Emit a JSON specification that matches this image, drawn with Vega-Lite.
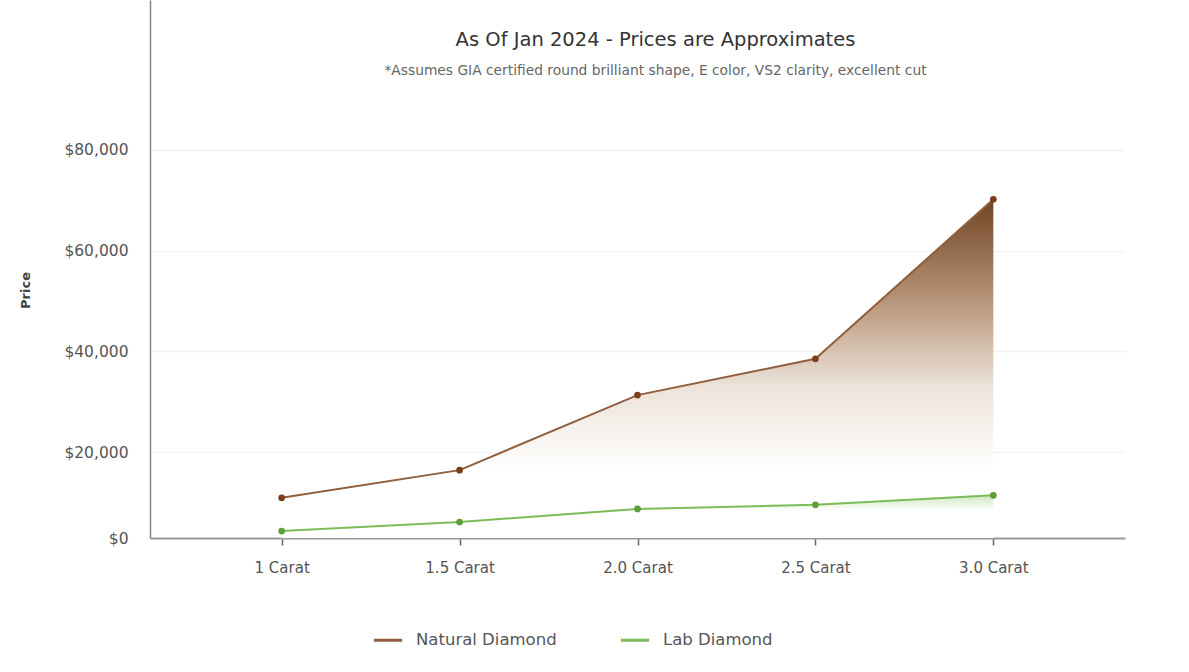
{
  "$schema": "https://vega.github.io/schema/vega-lite/v6.json",
  "width": 975,
  "height": 538,
  "autosize": {"type": "none"},
  "padding": {"left": 150, "top": 0, "right": 64, "bottom": 134},
  "background": "#ffffff",
  "config": {
    "font": "DejaVu Sans",
    "view": {"stroke": null}
  },
  "title": {
    "text": "As Of Jan 2024 - Prices are Approximates",
    "subtitle": "*Assumes GIA  certified round  brilliant shape, E color, VS2 clarity, excellent cut",
    "orient": "top",
    "anchor": "middle",
    "offset": -79,
    "dx": 18,
    "fontSize": 19.5,
    "fontWeight": "normal",
    "color": "#333333",
    "subtitleFontSize": 13.8,
    "subtitleColor": "#666666",
    "subtitlePadding": 14
  },
  "data": {
    "values": [
      {"carat": "1 Carat", "type": "Natural Diamond", "price": 10900},
      {"carat": "1.5 Carat", "type": "Natural Diamond", "price": 16400},
      {"carat": "2.0 Carat", "type": "Natural Diamond", "price": 31300},
      {"carat": "2.5 Carat", "type": "Natural Diamond", "price": 38500},
      {"carat": "3.0 Carat", "type": "Natural Diamond", "price": 70200},
      {"carat": "1 Carat", "type": "Lab Diamond", "price": 4300},
      {"carat": "1.5 Carat", "type": "Lab Diamond", "price": 6100},
      {"carat": "2.0 Carat", "type": "Lab Diamond", "price": 8700},
      {"carat": "2.5 Carat", "type": "Lab Diamond", "price": 9500},
      {"carat": "3.0 Carat", "type": "Lab Diamond", "price": 11400}
    ]
  },
  "encoding": {
    "x": {
      "field": "carat",
      "type": "ordinal",
      "sort": ["1 Carat", "1.5 Carat", "2.0 Carat", "2.5 Carat", "3.0 Carat"],
      "scale": {"type": "point", "padding": 0.74},
      "axis": {
        "title": null,
        "labelAngle": 0,
        "labelFontSize": 15,
        "labelColor": "#555555",
        "labelPadding": 15,
        "tickSize": 7,
        "tickColor": "#666666",
        "tickWidth": 1.5,
        "domainColor": "#999999",
        "domainWidth": 2,
        "grid": false
      }
    },
    "y": {
      "field": "price",
      "type": "quantitative",
      "scale": {"domain": [2920, 109770], "zero": false, "nice": false},
      "axis": {
        "title": "Price",
        "titleFontSize": 13,
        "titleFontWeight": "bold",
        "titleColor": "#444444",
        "titleX": -118,
        "titleY": 290,
        "values": [2920, 20000, 40000, 60000, 80000],
        "labelExpr": "datum.value < 10000 ? '$0' : '$' + format(datum.value, ',')",
        "labelFontSize": 15.5,
        "labelColor": "#555555",
        "labelPadding": 22,
        "ticks": false,
        "domainColor": "#888888",
        "domainWidth": 1.5,
        "gridColor": "#f2f2f2",
        "gridWidth": 1.5
      }
    }
  },
  "layer": [
    {
      "transform": [{"filter": "datum.type === 'Natural Diamond'"}],
      "mark": {
        "type": "area",
        "fill": {
          "gradient": "linear",
          "x1": 0, "y1": 0, "x2": 0, "y2": 1,
          "stops": [
            {"offset": 0, "color": "#6e4524"},
            {"offset": 0.28, "color": "#b48f72"},
            {"offset": 0.55, "color": "#ece2d9"},
            {"offset": 0.8, "color": "#ffffff"}
          ]
        }
      },
      "encoding": {"y2": {"datum": 2920}}
    },
    {
      "transform": [{"filter": "datum.type === 'Lab Diamond'"}],
      "mark": {
        "type": "area",
        "fill": {
          "gradient": "linear",
          "x1": 0, "y1": 0, "x2": 0, "y2": 1,
          "stops": [
            {"offset": 0, "color": "#cfe6c1"},
            {"offset": 0.35, "color": "#ffffff"}
          ]
        }
      },
      "encoding": {"y2": {"datum": 2920}}
    },
    {
      "mark": {"type": "line", "strokeWidth": 2},
      "encoding": {
        "color": {
          "field": "type",
          "type": "nominal",
          "scale": {"domain": ["Natural Diamond", "Lab Diamond"], "range": ["#8f5f3e", "#7cbd5a"]},
          "legend": {
            "title": null,
            "orient": "none",
            "legendX": 222,
            "legendY": 624,
            "direction": "horizontal",
            "symbolType": "stroke",
            "symbolSize": 800,
            "symbolStrokeWidth": 3,
            "labelFontSize": 16.5,
            "labelColor": "#555555",
            "labelOffset": 12,
            "labelLimit": 300,
            "columnPadding": 57
          }
        }
      }
    },
    {
      "mark": {"type": "point", "filled": true, "size": 45, "opacity": 1},
      "encoding": {
        "fill": {
          "field": "type",
          "type": "nominal",
          "scale": {"domain": ["Natural Diamond", "Lab Diamond"], "range": ["#7a3e1c", "#5f9e3a"]},
          "legend": null
        }
      }
    }
  ]
}
